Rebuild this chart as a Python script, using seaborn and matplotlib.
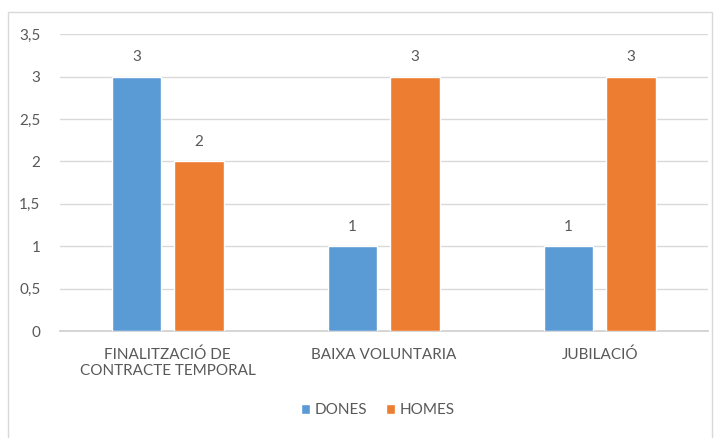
import matplotlib
matplotlib.use('Agg')
import matplotlib.pyplot as plt
import matplotlib.patches as mpatches
from matplotlib.ticker import FuncFormatter
import seaborn as sns
import pandas as pd

categories = ['FINALITZACIÓ DE\nCONTRACTE TEMPORAL', 'BAIXA VOLUNTARIA', 'JUBILACIÓ']
series_names = ['DONES', 'HOMES']
dones = [3, 1, 1]
homes = [2, 3, 3]
colors = ['#5B9BD5', '#ED7D31']
text_color = '#595959'


def main():
    df = pd.DataFrame({
        'categoria': categories * 2,
        'serie': [series_names[0]] * 3 + [series_names[1]] * 3,
        'valor': dones + homes,
    })

    sns.set_theme(style='white')
    plt.rcParams['font.family'] = ['Lato', 'DejaVu Sans']

    fig = plt.figure(figsize=(7.2, 4.38), dpi=100)
    ax = fig.add_axes([0.083, 0.244, 0.9, 0.678])

    sns.barplot(data=df, x='categoria', y='valor', hue='serie', palette=colors,
                width=0.58, gap=0.215, ax=ax, legend=True, saturation=1, zorder=3)

    for cont in ax.containers:
        ax.bar_label(cont, fmt='%d', padding=9, fontsize=11, color=text_color)

    ax.set_ylim(0, 3.5)
    ax.set_yticks([0, 0.5, 1, 1.5, 2, 2.5, 3, 3.5])
    ax.yaxis.set_major_formatter(FuncFormatter(lambda v, p: f'{v:g}'.replace('.', ',')))
    ax.grid(axis='y', color='#D9D9D9', linewidth=1, zorder=0)
    ax.set_axisbelow(True)
    for s in ['top', 'right', 'left']:
        ax.spines[s].set_visible(False)
    ax.spines['bottom'].set_color('#D0D0D0')
    ax.tick_params(axis='both', length=0, labelsize=11, colors=text_color)
    ax.tick_params(axis='y', pad=14)
    ax.tick_params(axis='x', pad=12)
    ax.set_xlabel('')
    ax.set_ylabel('')

    ax.legend(loc='center', bbox_to_anchor=(0.525, 0.063), bbox_transform=fig.transFigure,
              ncol=2, frameon=False, fontsize=11, labelcolor=text_color,
              handlelength=0.6, handleheight=0.6, handletextpad=0.3, columnspacing=1.2)

    # marc del gràfic
    fig.patches.append(mpatches.Rectangle((8 / 720, -0.01), 704 / 720, 1 - 12 / 438 + 0.01,
                                          transform=fig.transFigure, fill=False,
                                          edgecolor='#D9D9D9', linewidth=1))

    fig.savefig('out.png', dpi=100, facecolor='white')


if __name__ == '__main__':
    main()
